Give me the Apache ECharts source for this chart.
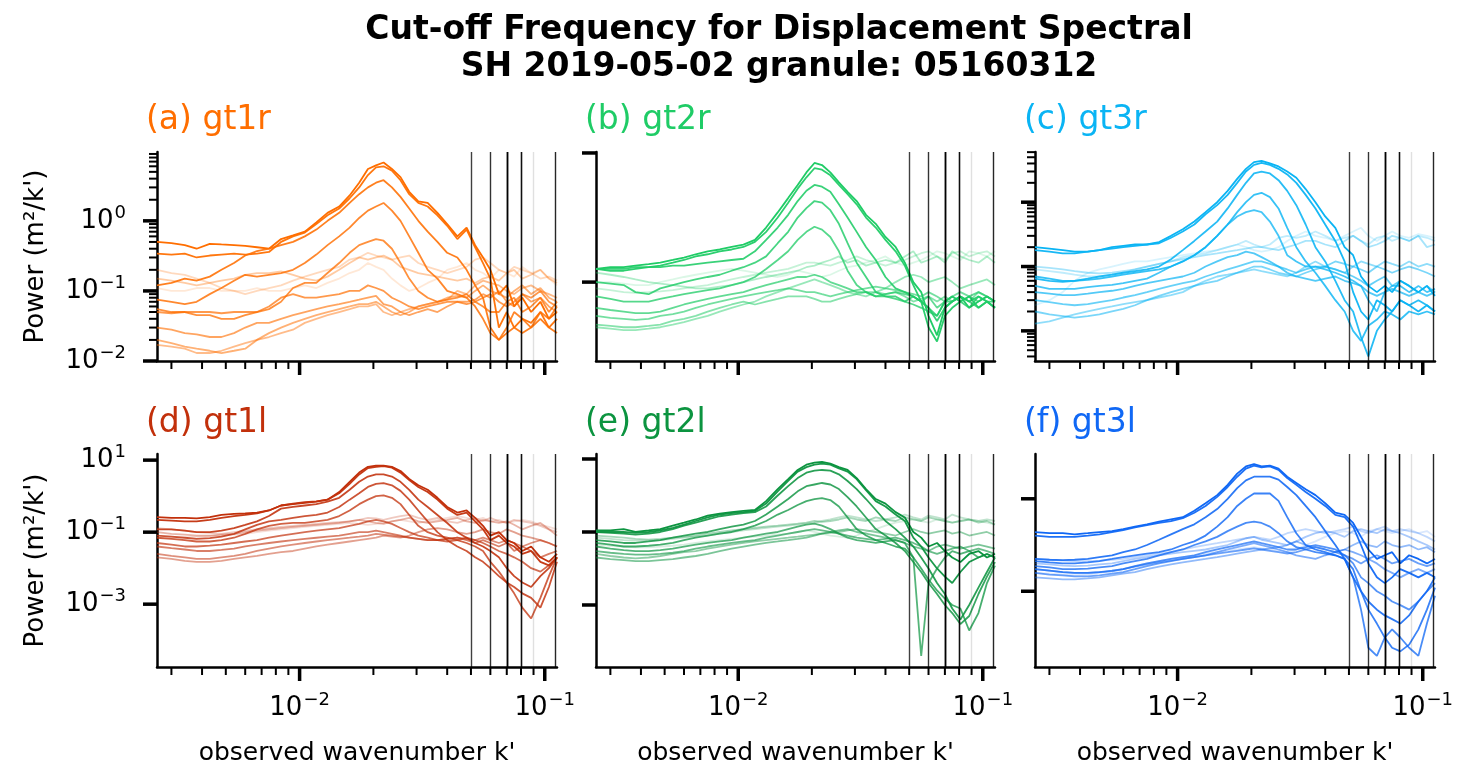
<!DOCTYPE html>
<html>
<head>
<meta charset="utf-8">
<script src="https://cdn.jsdelivr.net/npm/echarts@6.0.0/dist/echarts.min.js"></script>
<style>
  html, body { margin: 0; padding: 0; background: #fff; }
  #chart { width: 1466px; height: 782px; }
</style>
</head>
<body>
<div id="chart"></div>
<script>
// observed wavenumber k' (sample points)
const K = [0.00262, 0.003, 0.0034, 0.0038, 0.0043, 0.0048, 0.0054, 0.006, 0.0067, 0.0075,
  0.0084, 0.0094, 0.0105, 0.0117, 0.013, 0.0145, 0.016, 0.0175, 0.019, 0.0205,
  0.022, 0.0238, 0.0258, 0.028, 0.0305, 0.0333, 0.0365, 0.04, 0.044, 0.048,
  0.052, 0.056, 0.06, 0.065, 0.07, 0.075, 0.081, 0.088, 0.096, 0.104,
  0.1122];

// cut-off wavenumbers (vertical lines, same in every panel)
const CUTOFF_K = [0.0487, 0.0609, 0.0651, 0.0665, 0.0743, 0.0783, 0.0841, 0.0885, 0.1112];
const CUTOFF_ALPHA = [0.75, 0.8, 0.8, 0.8, 0.85, 0.85, 0.6, 0.12, 0.85];

// opacity of the spectra, darkest first
const LINE_ALPHA = [1, 0.94, 0.88, 0.82, 0.76, 0.7, 0.62, 0.54, 0.46, 0.36, 0.26, 0.16];

const PANEL_TITLES = ['(a) gt1r', '(b) gt2r', '(c) gt3r', '(d) gt1l', '(e) gt2l', '(f) gt3l'];

// power spectra, m^2/k'
const GT1R = [
  [.5,.48,.45,.4,.47,.46,.45,.44,.42,.4, .55,.62,.7,.95,1.3,1.6,2.3,3.5,5.5,6.2, 6.8,5.5,4.2,2.6,1.9,1.8,1.3,.9,.6,.8, .45,.3,.2,.09,.12,.06,.08,.05,.07,.04, .05],
  [.34,.33,.34,.3,.32,.33,.34,.33,.34,.36, .5,.6,.68,.9,1.2,1.5,2.1,3,4.5,5.8, 6,5.2,3.8,2.4,1.8,1.6,1.2,.85,.55,.75, .42,.25,.15,.03,.05,.03,.04,.035,.05,.03, .04],
  [.12,.13,.15,.14,.16,.2,.25,.32,.37,.4, .45,.5,.6,.75,1,1.3,1.8,2.4,3,3.5, 3.8,3,2.2,1.5,1,.7,.5,.35,.3,.2, .12,.08,.03,.02,.025,.03,.025,.03,.04,.03, .025],
  [.075,.07,.065,.07,.09,.11,.14,.17,.16,.17, .18,.2,.25,.33,.45,.6,.8,1.1,1.4,1.6, 1.8,1.4,1,.6,.35,.2,.15,.1,.09,.08, .06,.04,.025,.02,.03,.05,.04,.03,.05,.04, .06],
  [.055,.05,.05,.045,.045,.04,.04,.045,.05,.055, .07,.11,.13,.13,.18,.25,.35,.45,.5,.55, .52,.4,.25,.15,.1,.08,.07,.075,.08,.09, .07,.06,.05,.05,.07,.08,.05,.06,.08,.05, .07],
  [.05,.048,.05,.05,.05,.048,.05,.05,.05,.06, .08,.09,.08,.08,.085,.09,.1,.1,.12,.11, .1,.08,.07,.06,.055,.06,.065,.07,.07,.065, .07,.08,.09,.07,.06,.07,.09,.08,.1,.07, .06],
  [.03,.028,.025,.024,.022,.022,.025,.03,.035,.035, .04,.045,.05,.055,.06,.065,.07,.075,.08,.085, .065,.06,.05,.045,.05,.055,.05,.06,.07,.07, .075,.09,.08,.1,.07,.06,.09,.07,.08,.06, .05],
  [.02,.018,.016,.015,.014,.013,.014,.015,.02,.025, .03,.035,.04,.045,.05,.055,.06,.065,.065,.07, .06,.05,.045,.05,.06,.065,.07,.08,.085,.08, .1,.12,.1,.09,.08,.1,.12,.09,.11,.08, .07],
  [.017,.016,.015,.013,.013,.014,.016,.018,.02,.022, .025,.028,.035,.04,.045,.05,.055,.06,.06,.065, .05,.045,.05,.055,.06,.065,.07,.075,.1,.09, .12,.14,.13,.12,.1,.09,.11,.12,.1,.09, .08],
  [.15,.14,.13,.12,.13,.14,.15,.17,.18,.18, .19,.17,.15,.14,.16,.2,.25,.3,.28,.3, .32,.28,.22,.2,.18,.17,.16,.15,.14,.15, .13,.15,.16,.14,.18,.2,.15,.17,.2,.15, .13],
  [.2,.18,.17,.15,.13,.11,.1,.09,.1,.11, .12,.14,.16,.18,.2,.22,.28,.3,.35,.32, .3,.28,.3,.32,.25,.22,.2,.18,.2,.22, .28,.3,.25,.2,.18,.22,.2,.18,.15,.16, .14],
  [.11,.1,.1,.11,.11,.1,.1,.1,.11,.1, .1,.11,.12,.11,.13,.15,.18,.2,.25,.22, .2,.15,.12,.1,.11,.13,.15,.2,.22,.25, .2,.18,.15,.2,.18,.16,.22,.18,.2,.15, .12]
];
const GT2R = [
  [.16,.17,.17,.18,.19,.2,.22,.24,.27,.3, .32,.35,.38,.45,.7,1.2,2,3.2,5,7, 6.5,5,3.5,2.5,1.8,1.1,.8,.5,.35,.2, .1,.07,.03,.015,.04,.05,.06,.04,.05,.06, .05],
  [.16,.15,.15,.16,.17,.18,.2,.22,.25,.27, .3,.32,.35,.42,.6,1,1.7,2.8,4.2,5.8, 5.5,4.5,3.2,2.3,1.6,1,.7,.45,.3,.18, .09,.05,.02,.012,.03,.04,.05,.06,.04,.05, .04],
  [.16,.16,.16,.17,.17,.17,.18,.18,.19,.2, .21,.22,.23,.3,.45,.7,1.1,1.8,2.6,3.2, 3,2.5,1.6,1,.6,.35,.22,.12,.08,.07, .06,.05,.04,.025,.04,.05,.06,.05,.06,.05, .04],
  [.1,.095,.09,.07,.065,.08,.09,.1,.11,.12, .13,.15,.17,.2,.25,.4,.6,1,1.4,1.8, 1.7,1.3,.8,.4,.2,.12,.07,.06,.06,.05, .06,.05,.04,.03,.05,.06,.05,.04,.06,.05, .05],
  [.06,.055,.05,.05,.05,.055,.06,.065,.07,.075, .08,.09,.1,.12,.16,.22,.3,.45,.6,.72, .65,.5,.3,.15,.09,.07,.06,.06,.055,.05, .045,.04,.035,.03,.05,.05,.06,.05,.04,.05, .04],
  [.04,.037,.035,.033,.033,.035,.04,.045,.05,.055, .06,.065,.07,.08,.09,.1,.11,.12,.12,.13, .12,.1,.09,.08,.07,.07,.06,.065,.07,.065, .06,.05,.06,.04,.05,.06,.05,.06,.07,.06, .05],
  [.03,.028,.027,.026,.027,.03,.032,.035,.04,.045, .05,.055,.06,.065,.07,.075,.08,.075,.07,.07, .065,.06,.065,.07,.075,.08,.085,.08,.075,.07, .065,.06,.07,.06,.05,.06,.07,.06,.05,.06, .05],
  [.022,.021,.02,.02,.021,.022,.025,.027,.03,.035, .04,.045,.05,.045,.05,.055,.06,.06,.06,.055, .05,.05,.055,.06,.065,.07,.07,.065,.07,.06, .05,.055,.06,.05,.06,.05,.06,.05,.07,.06, .05],
  [.02,.019,.018,.018,.019,.02,.022,.024,.027,.03, .035,.04,.045,.05,.06,.07,.08,.09,.1,.11, .1,.09,.08,.07,.065,.06,.07,.08,.1,.12, .13,.12,.1,.11,.12,.1,.08,.09,.1,.11, .09],
  [.14,.13,.12,.11,.1,.095,.09,.085,.08,.08, .085,.09,.1,.11,.12,.13,.14,.15,.17,.18, .2,.22,.25,.2,.22,.18,.2,.22,.2,.25, .3,.2,.22,.25,.2,.3,.25,.22,.2,.25, .2],
  [.08,.075,.07,.068,.07,.072,.075,.08,.085,.09, .1,.11,.12,.13,.14,.15,.16,.18,.2,.2, .19,.18,.2,.22,.25,.22,.2,.18,.2,.22, .25,.28,.3,.25,.22,.28,.3,.25,.28,.3, .25],
  [.1,.1,.095,.09,.09,.1,.11,.12,.13,.14, .15,.16,.15,.14,.13,.12,.13,.15,.14,.13, .12,.13,.15,.17,.18,.2,.22,.25,.2,.18, .2,.22,.25,.3,.28,.25,.22,.3,.28,.25, .3]
];
const GT3R = [
  [.2,.19,.18,.17,.17,.18,.2,.21,.22,.22, .24,.3,.38,.5,.7,1,1.5,2.3,3.3,4.2, 4.4,4,3.6,3,2.4,1.6,1,.6,.4,.2, .15,.07,.05,.04,.05,.04,.06,.05,.04,.05, .035],
  [.18,.17,.16,.16,.17,.18,.19,.2,.21,.22, .23,.28,.35,.45,.65,.9,1.3,2,3,3.8, 4.1,3.8,3.3,2.7,2,1.3,.8,.45,.25,.12, .04,.02,.015,.03,.025,.02,.03,.025,.02,.025, .02],
  [.065,.06,.058,.06,.065,.07,.075,.08,.085,.09, .1,.13,.18,.25,.35,.5,.8,1.3,2,2.8, 3,2.8,2.2,1.5,.9,.45,.2,.12,.06,.03, .02,.008,.004,.01,.015,.02,.03,.025,.03,.025, .02],
  [.07,.065,.06,.06,.062,.065,.07,.075,.08,.085, .09,.1,.12,.15,.2,.3,.45,.7,1,1.3, 1.4,1.2,.8,.4,.2,.12,.08,.05,.03,.02, .01,.007,.012,.015,.02,.018,.015,.02,.018,.02, .018],
  [.05,.045,.045,.045,.048,.05,.052,.055,.06,.065, .08,.1,.12,.15,.2,.3,.45,.6,.7,.75, .7,.5,.3,.15,.12,.1,.1,.09,.08,.07, .06,.05,.03,.02,.04,.05,.05,.04,.05,.04, .045],
  [.04,.038,.036,.036,.038,.04,.042,.045,.05,.055, .06,.065,.07,.08,.1,.12,.14,.15,.17,.16, .14,.12,.1,.08,.07,.065,.06,.065,.07,.06, .055,.05,.04,.035,.04,.045,.04,.035,.04,.035, .04],
  [.03,.028,.026,.025,.026,.028,.03,.033,.036,.04, .045,.05,.055,.06,.07,.08,.09,.1,.11,.12, .12,.11,.1,.09,.08,.09,.1,.1,.09,.08, .07,.06,.05,.06,.07,.05,.06,.05,.04,.05, .04],
  [.02,.018,.017,.016,.017,.018,.02,.022,.025,.03, .035,.04,.045,.05,.055,.06,.07,.08,.09,.1, .1,.09,.08,.075,.07,.08,.09,.1,.12,.11, .1,.09,.08,.1,.09,.08,.09,.1,.09,.08, .07],
  [.013,.014,.016,.018,.02,.022,.024,.026,.028,.03, .033,.036,.04,.05,.06,.07,.075,.08,.085,.09, .085,.08,.075,.07,.08,.1,.12,.1,.09,.08, .1,.12,.11,.1,.12,.11,.1,.12,.1,.11, .1],
  [.1,.095,.09,.085,.08,.078,.08,.085,.09,.1, .11,.12,.13,.14,.15,.16,.17,.18,.19,.2, .2,.19,.18,.2,.22,.25,.25,.22,.2,.25, .3,.25,.2,.22,.25,.3,.28,.25,.3,.2, .22],
  [.09,.085,.08,.075,.07,.07,.075,.08,.09,.1, .11,.12,.14,.15,.16,.18,.2,.22,.25,.22, .2,.22,.28,.3,.28,.3,.35,.3,.25,.28, .3,.25,.22,.28,.3,.25,.28,.25,.3,.28, .25],
  [.025,.03,.04,.06,.08,.09,.1,.11,.12,.12, .13,.14,.15,.16,.17,.18,.2,.22,.2,.18, .17,.18,.2,.25,.3,.35,.3,.28,.25,.3, .35,.4,.3,.25,.3,.35,.3,.28,.32,.3, .28]
];
const GT1L = [
  [.26,.25,.25,.24,.26,.3,.32,.33,.35,.4, .55,.6,.65,.7,.8,1.3,2.5,4.5,6.5,7, 7,6.5,5,3,2,1.5,.9,.5,.35,.4, .25,.15,.08,.1,.06,.05,.03,.04,.02,.015, .025],
  [.22,.21,.2,.2,.22,.25,.28,.3,.33,.4, .55,.62,.68,.72,.8,1.2,2.2,4,6,6.5, 6.8,6.2,4.5,2.8,1.8,1.3,.8,.45,.3,.35, .2,.12,.06,.08,.05,.04,.025,.03,.015,.012, .02],
  [.12,.12,.11,.1,.1,.11,.13,.16,.2,.28, .45,.5,.55,.6,.7,.9,1.5,2.5,3.5,4, 4,3.5,2.5,1.5,.8,.5,.3,.18,.1,.07, .05,.04,.03,.02,.01,.006,.004,.003,.006,.01, .02],
  [.08,.075,.07,.065,.068,.075,.09,.12,.16,.2, .22,.25,.28,.3,.35,.5,.8,1.2,1.8,2.2, 2.3,2,1.4,.8,.4,.2,.1,.06,.04,.03, .02,.015,.01,.006,.004,.003,.002,.0015,.0008,.003, .015],
  [.07,.065,.06,.055,.055,.06,.07,.09,.12,.15, .17,.18,.18,.2,.22,.28,.4,.6,.8,1, 1.05,.9,.6,.3,.15,.1,.08,.07,.06,.05, .04,.03,.015,.008,.004,.002,.0008,.0004,.0015,.006, .02],
  [.05,.045,.04,.04,.042,.045,.05,.055,.06,.07, .08,.09,.1,.11,.12,.13,.15,.17,.2,.22, .2,.17,.13,.1,.08,.07,.06,.055,.06,.07, .06,.05,.04,.03,.025,.02,.015,.01,.008,.012, .02],
  [.04,.036,.033,.03,.03,.032,.035,.04,.045,.05, .055,.06,.065,.07,.075,.08,.09,.1,.1,.11, .1,.09,.08,.07,.065,.06,.06,.065,.07,.06, .05,.06,.05,.04,.05,.03,.04,.03,.02,.025, .03],
  [.025,.022,.02,.018,.018,.02,.022,.025,.03,.035, .04,.045,.05,.055,.06,.065,.07,.075,.08,.09, .085,.08,.075,.07,.065,.06,.06,.065,.07,.065, .06,.07,.06,.05,.06,.05,.04,.05,.06,.05, .04],
  [.02,.018,.016,.015,.015,.016,.018,.02,.022,.025, .028,.03,.035,.04,.045,.05,.055,.06,.065,.07, .08,.075,.07,.08,.1,.12,.13,.12,.1,.09, .1,.12,.1,.09,.12,.1,.08,.07,.06,.05, .04],
  [.1,.09,.085,.08,.08,.085,.09,.1,.11,.12, .13,.14,.15,.16,.17,.18,.2,.22,.2,.18, .17,.2,.22,.25,.2,.18,.2,.22,.25,.2, .18,.22,.2,.18,.2,.16,.12,.15,.18,.12, .08],
  [.13,.12,.11,.1,.095,.09,.1,.11,.12,.13, .14,.15,.16,.17,.18,.19,.2,.22,.25,.24, .22,.25,.28,.3,.25,.22,.25,.2,.18,.22, .25,.2,.25,.2,.18,.22,.2,.18,.15,.12, .1],
  [.07,.07,.072,.075,.078,.08,.085,.09,.1,.11, .12,.13,.14,.15,.16,.17,.18,.17,.16,.17, .18,.2,.22,.2,.18,.2,.22,.25,.28,.25, .22,.25,.2,.22,.18,.2,.22,.2,.16,.14, .12]
];
const GT2L = [
  [.11,.11,.12,.1,.11,.12,.15,.18,.22,.28, .32,.35,.38,.4,.7,1.5,2.8,5,7,8, 8.3,7.5,6,5,3,1.5,.8,.6,.35,.25, .1,.07,.04,.05,.03,.02,.015,.025,.03,.02, .025],
  [.1,.1,.1,.095,.1,.11,.13,.16,.2,.25, .3,.33,.35,.38,.6,1.3,2.5,4.5,6,7, 7.5,7,5.5,4.5,2.8,1.4,.7,.5,.3,.2, .07,.04,.02,.01,.006,.004,.008,.015,.02,.025, .02],
  [.1,.095,.09,.085,.09,.1,.12,.15,.18,.22, .27,.3,.33,.35,.5,1,1.8,3,4.2,4.8, 5,4.8,3.8,2.5,1.5,.8,.4,.2,.12,.07, .04,.02,.01,.004,.002,.0008,.0004,.001,.003,.008, .02],
  [.06,.055,.05,.05,.055,.06,.07,.08,.09,.1, .12,.14,.16,.2,.3,.5,.8,1.3,1.8,2, 2.2,2,1.5,.9,.5,.25,.12,.08,.05,.03, .015,.008,.004,.002,.001,.0006,.0003,.0005,.002,.006, .015],
  [.05,.045,.04,.04,.042,.045,.05,.06,.07,.08, .09,.1,.12,.15,.2,.3,.4,.55,.7,.8, .85,.75,.5,.25,.12,.08,.06,.05,.04,.035, .02,.01,.005,.0025,.0015,.001,.0008,.0002,.0006,.004, .012],
  [.04,.035,.032,.03,.03,.032,.035,.04,.045,.05, .055,.06,.07,.08,.09,.1,.12,.14,.16,.17, .15,.12,.09,.07,.06,.055,.05,.055,.06,.05, .02,.00004,.004,.01,.02,.03,.025,.03,.02,.025, .02],
  [.03,.027,.025,.024,.024,.025,.027,.03,.035,.04, .045,.05,.055,.06,.07,.08,.09,.1,.11,.12, .11,.1,.09,.08,.07,.065,.06,.065,.07,.06, .05,.04,.03,.025,.03,.035,.04,.03,.035,.03, .025],
  [.02,.018,.017,.016,.016,.017,.018,.02,.022,.025, .03,.035,.04,.045,.05,.055,.06,.065,.07,.08, .09,.1,.11,.12,.1,.09,.08,.07,.06,.05, .04,.035,.03,.04,.045,.04,.035,.04,.045,.04, .035],
  [.025,.022,.02,.019,.02,.022,.025,.028,.03,.035, .04,.045,.05,.055,.06,.065,.07,.075,.08,.085, .09,.095,.1,.11,.12,.11,.1,.09,.08,.1, .12,.1,.09,.1,.11,.09,.1,.08,.09,.1, .08],
  [.08,.075,.07,.065,.062,.065,.07,.075,.08,.09, .1,.11,.12,.13,.14,.15,.16,.17,.18,.2, .19,.2,.22,.25,.22,.2,.25,.22,.2,.25, .22,.2,.25,.22,.2,.18,.2,.22,.18,.2, .16],
  [.07,.065,.06,.058,.058,.06,.065,.07,.075,.08, .09,.1,.11,.12,.13,.14,.15,.16,.17,.18, .2,.22,.25,.28,.25,.22,.2,.22,.25,.3, .25,.22,.28,.25,.22,.3,.25,.22,.2,.22, .2],
  [.045,.042,.04,.038,.038,.04,.042,.045,.05,.055, .06,.065,.07,.075,.08,.085,.09,.1,.11,.1, .09,.08,.075,.07,.08,.1,.12,.15,.18,.2, .22,.2,.18,.22,.2,.18,.2,.22,.2,.18, .16]
];
const GT3L = [
  [.19,.18,.18,.17,.18,.19,.2,.22,.25,.28, .32,.36,.4,.55,.8,1.2,2,3.5,5,5.6, 5,5.2,4.5,3,2.2,1.6,1.2,.8,.5,.45, .3,.15,.08,.05,.06,.07,.04,.06,.05,.04, .05],
  [.16,.15,.15,.15,.16,.17,.19,.21,.24,.27, .3,.33,.38,.5,.7,1.1,1.8,3,4.5,5.2, 4.8,5,4.2,2.8,2,1.4,1,.7,.45,.4, .25,.1,.04,.02,.015,.02,.03,.025,.02,.025, .02],
  [.05,.048,.047,.048,.05,.055,.06,.07,.08,.1, .13,.17,.22,.28,.4,.6,1,1.7,2.5,3, 3,3,2.6,1.8,1.2,.7,.4,.2,.1,.05, .02,.01,.006,.004,.003,.0025,.002,.003,.006,.01, .02],
  [.045,.042,.04,.04,.042,.045,.05,.055,.06,.065, .07,.08,.1,.12,.16,.25,.4,.7,1,1.3, 1.3,1.3,.9,.4,.18,.1,.08,.07,.06,.05, .03,.01,.004,.002,.001,.0006,.0005,.0007,.0015,.004, .012],
  [.035,.033,.03,.03,.031,.033,.035,.04,.045,.05, .06,.07,.08,.1,.12,.15,.2,.25,.3,.32, .3,.25,.18,.12,.09,.08,.07,.065,.06,.05, .02,.004,.0006,.0004,.001,.0015,.001,.0006,.0004,.002, .008],
  [.03,.028,.026,.025,.025,.026,.028,.03,.035,.04, .045,.05,.055,.06,.07,.08,.09,.1,.11,.12, .11,.1,.09,.08,.08,.09,.1,.09,.08,.06, .04,.02,.015,.01,.008,.006,.005,.004,.006,.01, .015],
  [.025,.023,.022,.021,.021,.022,.024,.026,.03,.035, .04,.045,.05,.055,.06,.065,.07,.075,.08,.085, .08,.075,.07,.065,.07,.08,.09,.08,.07,.06, .05,.04,.05,.06,.05,.04,.045,.05,.04,.035, .04],
  [.03,.028,.026,.025,.025,.026,.027,.03,.034,.038, .042,.046,.05,.055,.06,.07,.08,.09,.1,.11, .1,.09,.08,.07,.06,.055,.05,.06,.07,.08, .07,.06,.05,.04,.03,.025,.02,.025,.03,.025, .03],
  [.02,.019,.018,.018,.019,.02,.022,.024,.026,.03, .034,.038,.042,.046,.05,.055,.06,.065,.07,.075, .08,.085,.09,.1,.12,.1,.09,.08,.07,.08, .1,.12,.1,.09,.12,.1,.09,.1,.08,.09, .07],
  [.04,.038,.036,.035,.036,.038,.04,.045,.05,.055, .06,.065,.07,.075,.08,.09,.1,.12,.14,.15, .13,.12,.11,.1,.12,.15,.18,.2,.18,.15, .2,.22,.2,.18,.22,.2,.18,.15,.12,.1, .08],
  [.05,.048,.046,.045,.045,.046,.048,.05,.055,.06, .065,.07,.08,.09,.1,.11,.12,.13,.14,.15, .14,.13,.15,.18,.2,.22,.2,.18,.2,.22, .25,.2,.18,.22,.25,.2,.22,.2,.18,.15, .12],
  [.025,.024,.023,.022,.023,.025,.028,.03,.035,.04, .045,.05,.055,.06,.065,.07,.075,.08,.085,.09, .085,.08,.075,.07,.08,.1,.12,.15,.18,.2, .18,.15,.2,.22,.2,.18,.2,.22,.18,.2, .15]
];
const PANEL_DATA = [GT1R, GT2R, GT3R, GT1L, GT2L, GT3L];

// axis limits
const X_MIN = 0.00262, X_MAX = 0.1122;
const Y_MIN = [0.01, 0.006, 0.0034, 1.8e-5, 2e-5, 2.3e-4];
const Y_MAX = [9.6, 10.35, 6.03, 14.8, 13.7, 9.3];
const Y_MAJOR = [[-2, -1, 0], [1, -1], [0, -1, -2], [1, -1, -3], [1, -1, -3], [0, -2]];
const Y_HAS_MINOR = [true, false, true, false, false, false];
const X_MAJOR = [-2, -1];

// styles
const COLORS = ['#ff6e00', '#1fcc66', '#0ab4f4', '#c2300b', '#0c9440', '#1068f5'];
const FONT = '"DejaVu Sans", sans-serif';
const GRIDS = [
  { left: 157, top: 152, width: 400, height: 209 },
  { left: 596, top: 152, width: 399, height: 209 },
  { left: 1035, top: 152, width: 400, height: 209 },
  { left: 157, top: 454, width: 400, height: 213 },
  { left: 596, top: 454, width: 399, height: 213 },
  { left: 1035, top: 454, width: 400, height: 213 }
];
const RICH = {
  b: { fontFamily: FONT, fontSize: 26, color: '#000', lineHeight: 34 },
  s: { fontFamily: FONT, fontSize: 18, color: '#000', lineHeight: 17, verticalAlign: 'top', padding: [0, 0, 0, 1] }
};

function rgba(hex, a) {
  const n = parseInt(hex.slice(1), 16);
  return `rgba(${n >> 16},${(n >> 8) & 255},${n & 255},${a})`;
}

function powLabel(v, allowed) {
  const p = Math.log10(v);
  const r = Math.round(p);
  if (Math.abs(p - r) > 1e-6 || allowed.indexOf(r) < 0) return '';
  return '{b|10}{s|' + (r < 0 ? '\u2212' + (-r) : r) + '}';
}

function minorValues(lo, hi) {
  const out = [];
  for (let d = Math.floor(Math.log10(lo)); d <= Math.ceil(Math.log10(hi)); d++) {
    for (let m = 2; m <= 9; m++) {
      const v = m * Math.pow(10, d);
      if (v >= lo && v <= hi) out.push(v);
    }
  }
  return out;
}

// matplotlib-like outward ticks drawn through the axis scales
function tickSeries(p, pts, isX, len, width) {
  return {
    type: 'custom', xAxisIndex: p, yAxisIndex: p, clip: false, silent: true, z: 6,
    data: pts,
    renderItem: (params, api) => {
      const c = api.coord([api.value(0), api.value(1)]);
      return {
        type: 'line',
        shape: { x1: c[0], y1: c[1], x2: isX ? c[0] : c[0] - len, y2: isX ? c[1] + len : c[1] },
        style: { stroke: '#000', lineWidth: width }
      };
    }
  };
}

const option = {
  animation: false,
  backgroundColor: '#fff',
  title: [{
    text: 'Cut-off Frequency for Displacement Spectral\nSH 2019-05-02 granule: 05160312',
    left: 779, top: 12, textAlign: 'center', padding: 0,
    textStyle: { fontFamily: FONT, fontSize: 33, fontWeight: 'bold', color: '#000', lineHeight: 37 }
  }],
  grid: GRIDS.map(g => Object.assign({ outerBoundsMode: 'none', containLabel: false }, g)),
  xAxis: [], yAxis: [], series: []
};

PANEL_DATA.forEach((lines, p) => {
  const g = GRIDS[p];
  const bottom = p >= 3;
  const firstCol = p % 3 === 0;

  option.title.push({
    text: PANEL_TITLES[p], left: g.left - 11, top: bottom ? 404 : 101, padding: 0,
    textStyle: { fontFamily: FONT, fontSize: 33, fontWeight: 'normal', color: COLORS[p], lineHeight: 38 }
  });

  option.xAxis.push({
    type: 'log', logBase: 10, gridIndex: p, min: X_MIN, max: X_MAX,
    axisLine: { show: true, onZero: false, lineStyle: { color: '#000', width: 2.5 } },
    axisTick: { show: false }, splitLine: { show: false },
    axisLabel: { show: bottom, interval: 0, margin: 24, formatter: v => powLabel(v, X_MAJOR), rich: RICH },
    name: bottom ? "observed wavenumber k'" : '', nameLocation: 'middle', nameGap: 74,
    nameTextStyle: { fontFamily: FONT, fontSize: 25, color: '#000' }
  });

  option.yAxis.push({
    type: 'log', logBase: 10, gridIndex: p, min: Y_MIN[p], max: Y_MAX[p],
    axisLine: { show: true, onZero: false, lineStyle: { color: '#000', width: 2.5 } },
    axisTick: { show: false }, splitLine: { show: false },
    axisLabel: { show: firstCol, interval: 0, margin: 31, formatter: v => powLabel(v, Y_MAJOR[p]), rich: RICH },
    name: firstCol ? "Power (m\u00b2/k')" : '', nameLocation: 'middle', nameGap: 108, nameRotate: 90,
    nameTextStyle: { fontFamily: FONT, fontSize: 26, color: '#000' }
  });

  // spectra: lightest first so the dark ones sit on top
  for (let j = lines.length - 1; j >= 0; j--) {
    const s = {
      type: 'line', xAxisIndex: p, yAxisIndex: p, showSymbol: false, silent: true,
      emphasis: { disabled: true }, z: 2,
      lineStyle: { color: rgba(COLORS[p], LINE_ALPHA[j]), width: 1.8 },
      data: K.map((k, i) => [k, lines[j][i]]).filter(d => d[1] != null)
    };
    if (j === 0) {
      s.markLine = {
        silent: true, symbol: ['none', 'none'], label: { show: false }, animation: false,
        emphasis: { disabled: true },
        data: CUTOFF_K.map((k, i) => ({
          xAxis: k, lineStyle: { color: `rgba(0,0,0,${CUTOFF_ALPHA[i]})`, width: 1.4, type: 'solid' }
        }))
      };
    }
    option.series.push(s);
  }

  // x ticks
  option.series.push(tickSeries(p, X_MAJOR.map(e => [Math.pow(10, e), Y_MIN[p]]), true, 14, 3.5));
  option.series.push(tickSeries(p, minorValues(X_MIN, X_MAX).map(v => [v, Y_MIN[p]]), true, 8, 2));
  // y ticks
  option.series.push(tickSeries(p, Y_MAJOR[p].map(e => [X_MIN, Math.pow(10, e)]), false, 14, 3.5));
  if (Y_HAS_MINOR[p]) {
    option.series.push(tickSeries(p, minorValues(Y_MIN[p], Y_MAX[p]).map(v => [X_MIN, v]), false, 8, 2));
  }
});

const chart = echarts.init(document.getElementById('chart'));
chart.setOption(option);
</script>
</body>
</html>
